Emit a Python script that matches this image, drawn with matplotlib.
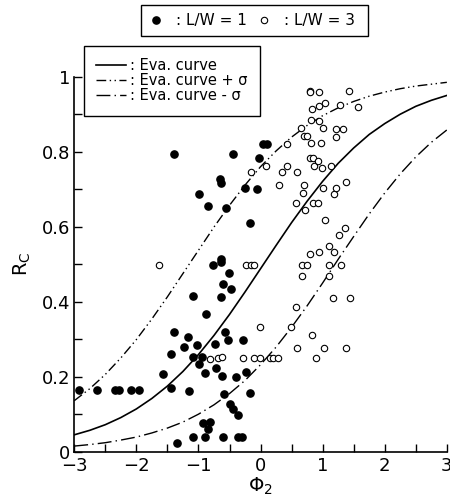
import numpy as np
import matplotlib.pyplot as plt
from matplotlib.lines import Line2D

# L/W = 1 (filled)
x_lw1 = [-2.92, -2.64, -2.35, -2.28, -2.09, -1.95, -1.57, -1.45, -1.44, -1.39,
         -1.24, -1.17, -1.15, -1.09, -0.94, -1.02, -0.99, -0.90, -0.73, -0.57,
         -0.53, -0.28, -0.71, -0.62, -0.39, -0.23, -0.59, -0.17, -0.49, -0.44,
         -0.37, -0.92, -0.82, -0.85, -1.09, -0.90, -0.61, -0.36, -0.30, -1.35,
         -1.09, -0.63, -0.88, -0.60, -0.48, -0.51, -0.76, -0.63, -0.63, -0.17,
         -0.85, -0.55, -0.99, -0.65, -0.64, -0.25, -0.06, -1.40, -0.44, -0.02,
         0.04, 0.10]
y_lw1 = [0.165, 0.165, 0.165, 0.165, 0.165, 0.165, 0.206, 0.171, 0.260, 0.318,
         0.279, 0.307, 0.162, 0.252, 0.253, 0.285, 0.235, 0.211, 0.288, 0.318,
         0.299, 0.299, 0.222, 0.202, 0.198, 0.212, 0.154, 0.157, 0.126, 0.113,
         0.099, 0.077, 0.080, 0.061, 0.038, 0.038, 0.038, 0.040, 0.038, 0.022,
         0.415, 0.412, 0.368, 0.447, 0.433, 0.476, 0.498, 0.514, 0.507, 0.611,
         0.656, 0.650, 0.686, 0.726, 0.717, 0.704, 0.700, 0.794, 0.793, 0.782,
         0.820, 0.820]

# L/W = 3 (open)
x_lw3 = [-1.63, -0.82, -0.68, -0.62, -0.28, -0.10, -0.01, 0.15, 0.20, 0.28,
         -0.01, 0.49, 0.83, 0.58, 1.02, 1.37, 0.90, 0.57, 1.17, 1.44,
         0.67, 1.10, 0.67, 0.74, 1.10, 1.30, 0.79, 0.94, 1.10, 1.19,
         1.27, 1.36, 1.04, 0.71, 0.57, 0.84, 0.92, 0.69, 1.18, 0.30,
         0.70, 1.01, 1.21, 1.37, -0.16, 0.34, 0.58, 0.08, 0.42, 0.86,
         0.99, 1.13, 0.80, 0.84, 0.92, 0.42, 0.81, 0.98, 0.70, 0.75,
         1.21, 0.65, 1.01, 1.22, 1.32, 0.82, 0.94, 0.83, 0.94, 1.04,
         1.28, 1.57, 0.79, 0.80, 0.94, 1.43, -0.23, -0.16, -0.10]
y_lw3 = [0.498, 0.248, 0.250, 0.252, 0.249, 0.249, 0.249, 0.249, 0.249, 0.249,
         0.333, 0.333, 0.311, 0.277, 0.277, 0.277, 0.249, 0.387, 0.411, 0.411,
         0.468, 0.468, 0.498, 0.498, 0.498, 0.498, 0.527, 0.532, 0.549, 0.533,
         0.578, 0.597, 0.618, 0.645, 0.664, 0.664, 0.664, 0.690, 0.688, 0.711,
         0.711, 0.702, 0.702, 0.720, 0.747, 0.747, 0.747, 0.762, 0.763, 0.763,
         0.756, 0.763, 0.784, 0.782, 0.775, 0.820, 0.824, 0.824, 0.843, 0.843,
         0.840, 0.864, 0.862, 0.860, 0.860, 0.885, 0.883, 0.913, 0.922, 0.931,
         0.924, 0.918, 0.962, 0.958, 0.960, 0.963, 0.498, 0.498, 0.498]

# evaluation curves read at steps of 0.25
phi = np.arange(-3, 3.01, 0.25)
eva = [0.045, 0.057, 0.072, 0.091, 0.114, 0.142, 0.175, 0.214, 0.259, 0.310,
       0.366, 0.426, 0.488, 0.550, 0.611, 0.668, 0.721, 0.769, 0.810, 0.846,
       0.875, 0.900, 0.921, 0.937, 0.950]
eva_plus = [0.136, 0.168, 0.206, 0.250, 0.299, 0.354, 0.413, 0.475, 0.537, 0.599,
            0.657, 0.711, 0.760, 0.802, 0.839, 0.870, 0.896, 0.917, 0.934, 0.948,
            0.959, 0.968, 0.975, 0.980, 0.985]
eva_minus = [0.015, 0.019, 0.024, 0.031, 0.039, 0.050, 0.063, 0.079, 0.100, 0.125,
             0.155, 0.190, 0.232, 0.279, 0.332, 0.389, 0.450, 0.513, 0.574, 0.634,
             0.690, 0.741, 0.786, 0.825, 0.858]

plt.rcParams['font.family'] = ['DejaVu Sans']
fig = plt.figure(figsize=(4.5, 4.99), dpi=100)
ax = fig.add_axes([0.165, 0.0948, 0.828, 0.7515])

plus_ls = (0, (7, 2.5, 1, 2.5, 1, 2.5))
minus_ls = (0, (10, 3, 1, 3))

l1, = ax.plot(phi, eva, '-', color='black', lw=1.2)
l2, = ax.plot(phi, eva_plus, color='black', lw=1.0, linestyle=plus_ls)
l3, = ax.plot(phi, eva_minus, color='black', lw=1.0, linestyle=minus_ls)

ax.plot(x_lw1, y_lw1, 'o', ms=5.2, color='black', clip_on=False)
ax.plot(x_lw3, y_lw3, 'o', ms=4.6, mfc='white', mec='black', mew=0.8, clip_on=False)

ax.set_xlim(-3, 3)
ax.set_ylim(0, 1)
ax.set_xticks([-3, -2, -1, 0, 1, 2, 3])
ax.set_xticks(np.arange(-2.5, 3, 1), minor=True)
ax.set_yticks([0, 0.2, 0.4, 0.6, 0.8, 1])
ax.set_yticklabels(['0', '0.2', '0.4', '0.6', '0.8', '1'])
ax.set_yticks([0.1, 0.3, 0.5, 0.7, 0.9], minor=True)
ax.tick_params(which='both', direction='in', length=6, width=1, labelsize=13, pad=3)
ax.tick_params(axis='x', pad=4)
ax.spines['top'].set_visible(False)
ax.spines['right'].set_visible(False)
for s in ['left', 'bottom']:
    ax.spines[s].set_linewidth(1.2)

ax.set_xlabel(r'$\Phi_2$', fontsize=14, labelpad=0)
ax.set_ylabel(r'R$_\mathrm{C}$', fontsize=14, labelpad=6)

# marker legend
h1 = Line2D([], [], ls='none', marker='o', ms=5.2, color='black')
h3 = Line2D([], [], ls='none', marker='o', ms=4.6, mfc='white', mec='black', mew=0.8)
leg1 = fig.legend([h1, h3], [': L/W = 1', ': L/W = 3 '], loc='center',
                  bbox_to_anchor=(0.566, 0.959), ncol=2, fontsize=11,
                  fancybox=False, edgecolor='black', framealpha=1,
                  handlelength=0.8, handletextpad=0.9, columnspacing=0.75,
                  borderpad=0.55, borderaxespad=0)
leg1.get_frame().set_linewidth(1.0)

leg2 = fig.legend([l1, l2, l3],
                  [': Eva. curve', ': Eva. curve + σ', ': Eva. curve - σ'],
                  loc='upper left', bbox_to_anchor=(84 / 450, 1 - 46 / 499), fontsize=10.5,
                  fancybox=False, edgecolor='black', framealpha=1,
                  handlelength=2.0, handletextpad=0.3, labelspacing=0.0,
                  borderpad=0.85, borderaxespad=0)
leg2.get_frame().set_linewidth(1.0)

fig.savefig('out.png', dpi=100)
